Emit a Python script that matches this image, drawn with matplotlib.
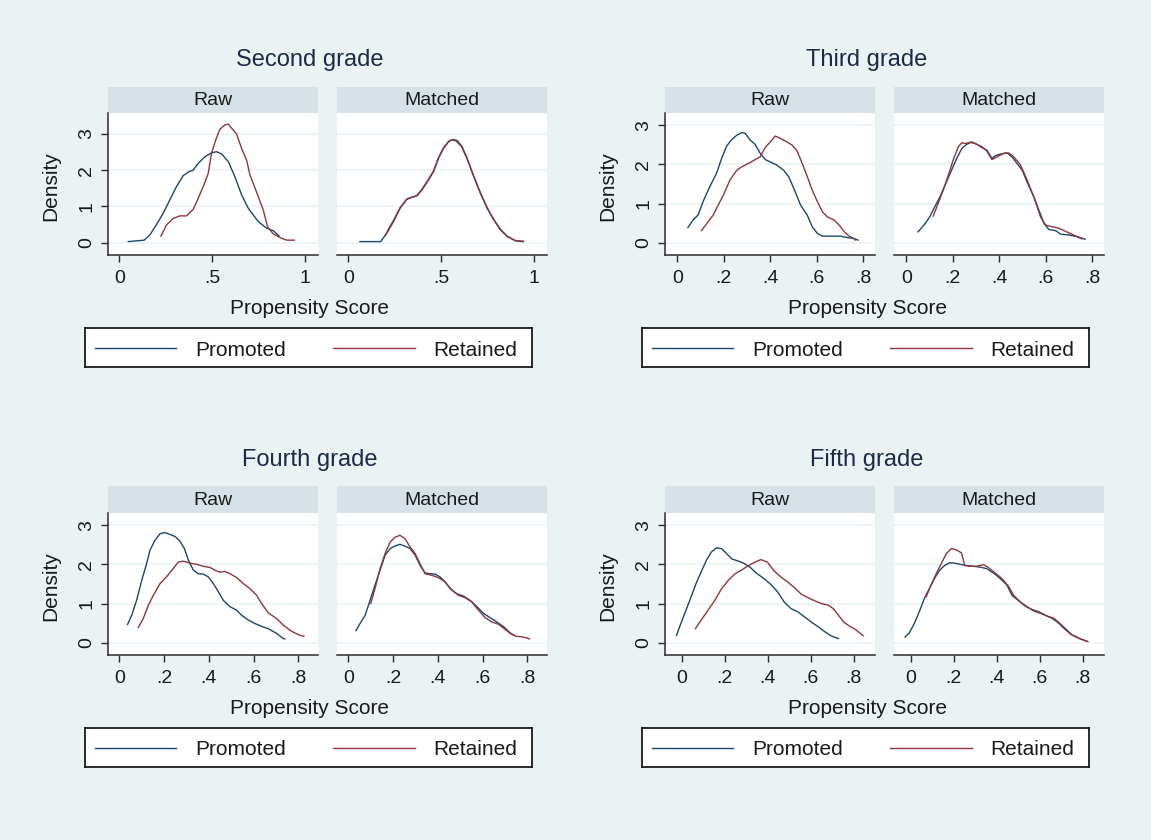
import matplotlib
matplotlib.use("Agg")
import matplotlib.pyplot as plt
from matplotlib.lines import Line2D

W, H = 1151, 840

BG = "#EAF2F3"
STRIP = "#D6E2E7"
GRID = "#EAF2F3"
NAVY = "#1A476F"
MAROON = "#90353B"
INK = "#1A1A1A"
TITLE_INK = "#1C2A48"

plt.rcParams["font.family"] = ["Liberation Sans", "DejaVu Sans"]

# ---- density curves (x = propensity score, y = density) ----
# Second grade
second_raw_pro_x = [0.049, 0.135, 0.165, 0.2, 0.237, 0.273, 0.309, 0.345, 0.376, 0.399, 0.426, 0.462,
                    0.498, 0.525, 0.552, 0.588, 0.624, 0.66, 0.696, 0.75, 0.795, 0.831, 0.863]
second_raw_pro_y = [0.03, 0.07, 0.21, 0.49, 0.81, 1.18, 1.55, 1.85, 1.96, 2.0, 2.19, 2.37,
                    2.48, 2.51, 2.45, 2.24, 1.82, 1.32, 0.95, 0.58, 0.40, 0.33, 0.18]
second_raw_ret_x = [0.225, 0.255, 0.291, 0.327, 0.363, 0.399, 0.426, 0.453, 0.48, 0.498, 0.52, 0.543,
                    0.57, 0.588, 0.606, 0.633, 0.66, 0.687, 0.705, 0.75, 0.777, 0.8, 0.831, 0.876,
                    0.903, 0.944]
second_raw_ret_y = [0.18, 0.49, 0.67, 0.74, 0.74, 0.92, 1.22, 1.55, 1.91, 2.47, 2.83, 3.13,
                    3.25, 3.27, 3.16, 3.0, 2.6, 2.28, 1.87, 1.27, 0.9, 0.44, 0.24, 0.12,
                    0.07, 0.07]
second_mat_pro_x = [0.063, 0.175, 0.208, 0.244, 0.28, 0.316, 0.343, 0.37, 0.397, 0.433, 0.46, 0.487,
                    0.514, 0.542, 0.565, 0.587, 0.614, 0.641, 0.677, 0.713, 0.749, 0.785, 0.821,
                    0.857, 0.903, 0.945]
second_mat_pro_y = [0.03, 0.03, 0.26, 0.58, 0.95, 1.2, 1.25, 1.29, 1.45, 1.73, 1.96, 2.33,
                    2.6, 2.79, 2.85, 2.82, 2.65, 2.33, 1.82, 1.36, 0.95, 0.63, 0.35,
                    0.17, 0.05, 0.03]
second_mat_ret_x = [0.2, 0.22, 0.245, 0.28, 0.316, 0.345, 0.37, 0.397, 0.433, 0.46, 0.487, 0.514,
                    0.542, 0.56, 0.58, 0.61, 0.64, 0.677, 0.713, 0.749, 0.785, 0.821, 0.857,
                    0.9, 0.945]
second_mat_ret_y = [0.2, 0.4, 0.62, 0.97, 1.2, 1.26, 1.3, 1.47, 1.75, 1.98, 2.35, 2.62,
                    2.8, 2.84, 2.81, 2.66, 2.33, 1.84, 1.38, 0.97, 0.64, 0.37, 0.18,
                    0.06, 0.04]

# Third grade
third_raw_pro_x = [0.046, 0.068, 0.09, 0.111, 0.14, 0.169, 0.191, 0.212, 0.234, 0.256, 0.278, 0.292,
                   0.314, 0.335, 0.357, 0.379, 0.4, 0.429, 0.458, 0.48, 0.502, 0.531, 0.559,
                   0.581, 0.603, 0.625, 0.661, 0.704, 0.726, 0.759, 0.778]
third_raw_pro_y = [0.39, 0.58, 0.71, 1.05, 1.43, 1.77, 2.15, 2.46, 2.63, 2.74, 2.81, 2.79,
                   2.62, 2.51, 2.28, 2.12, 2.06, 1.98, 1.85, 1.68, 1.38, 0.96, 0.71,
                   0.41, 0.24, 0.17, 0.17, 0.17, 0.14, 0.11, 0.07]
third_raw_ret_x = [0.104, 0.133, 0.155, 0.176, 0.198, 0.227, 0.256, 0.278, 0.306, 0.335, 0.357, 0.379,
                   0.4, 0.422, 0.444, 0.473, 0.494, 0.516, 0.538, 0.56, 0.581, 0.603, 0.625,
                   0.646, 0.675, 0.697, 0.719, 0.74, 0.759, 0.766]
third_raw_ret_y = [0.31, 0.54, 0.71, 0.96, 1.21, 1.6, 1.85, 1.94, 2.02, 2.12, 2.19, 2.43,
                   2.57, 2.72, 2.66, 2.57, 2.49, 2.34, 2.02, 1.68, 1.34, 1.05, 0.79,
                   0.66, 0.58, 0.45, 0.28, 0.17, 0.11, 0.07]
third_mat_pro_x = [0.051, 0.08, 0.101, 0.123, 0.145, 0.173, 0.195, 0.217, 0.239, 0.26, 0.282, 0.304,
                   0.325, 0.347, 0.369, 0.383, 0.405, 0.434, 0.455, 0.477, 0.499, 0.52, 0.549,
                   0.571, 0.593, 0.614, 0.643, 0.665, 0.7, 0.74, 0.77]
third_mat_pro_y = [0.28, 0.48, 0.66, 0.92, 1.17, 1.55, 1.85, 2.15, 2.4, 2.51, 2.57, 2.51,
                   2.43, 2.36, 2.15, 2.22, 2.26, 2.29, 2.19, 2.02, 1.85, 1.55, 1.17,
                   0.83, 0.49, 0.34, 0.31, 0.22, 0.2, 0.15, 0.09]
third_mat_ret_x = [0.116, 0.137, 0.159, 0.181, 0.202, 0.224, 0.239, 0.253, 0.275, 0.296, 0.325, 0.347,
                   0.369, 0.39, 0.419, 0.441, 0.463, 0.492, 0.52, 0.549, 0.578, 0.6, 0.629,
                   0.658, 0.679, 0.72, 0.755]
third_mat_ret_y = [0.68, 1.0, 1.34, 1.72, 2.11, 2.45, 2.55, 2.53, 2.56, 2.53, 2.45, 2.34,
                   2.12, 2.19, 2.28, 2.29, 2.19, 1.98, 1.6, 1.17, 0.66, 0.45, 0.41,
                   0.37, 0.31, 0.2, 0.1]

# Fourth grade
fourth_raw_pro_x = [0.037, 0.055, 0.077, 0.1, 0.122, 0.137, 0.159, 0.182, 0.204, 0.227, 0.249, 0.271,
                    0.291, 0.309, 0.331, 0.353, 0.375, 0.398, 0.42, 0.443, 0.465, 0.495, 0.525,
                    0.547, 0.577, 0.607, 0.636, 0.666, 0.703, 0.733, 0.74]
fourth_raw_pro_y = [0.47, 0.7, 1.08, 1.59, 2.02, 2.36, 2.61, 2.78, 2.81, 2.76, 2.71, 2.59,
                    2.4, 2.1, 1.85, 1.76, 1.75, 1.68, 1.51, 1.3, 1.08, 0.92, 0.83,
                    0.7, 0.58, 0.49, 0.42, 0.36, 0.24, 0.11, 0.1]
fourth_raw_ret_x = [0.085, 0.107, 0.13, 0.152, 0.182, 0.212, 0.241, 0.264, 0.286, 0.316, 0.346, 0.376,
                    0.405, 0.435, 0.45, 0.472, 0.495, 0.525, 0.554, 0.584, 0.614, 0.636, 0.666,
                    0.703, 0.733, 0.763, 0.785, 0.808, 0.825]
fourth_raw_ret_y = [0.39, 0.62, 0.96, 1.21, 1.51, 1.69, 1.89, 2.06, 2.08, 2.03, 2.0, 1.95,
                    1.92, 1.83, 1.8, 1.82, 1.76, 1.66, 1.51, 1.38, 1.21, 1.0, 0.76,
                    0.62, 0.45, 0.32, 0.25, 0.19, 0.17]
fourth_mat_pro_x = [0.034, 0.052, 0.075, 0.097, 0.119, 0.142, 0.164, 0.187, 0.209, 0.231, 0.254, 0.276,
                    0.299, 0.321, 0.343, 0.366, 0.388, 0.41, 0.433, 0.455, 0.485, 0.515, 0.545,
                    0.575, 0.604, 0.634, 0.664, 0.694, 0.724, 0.742]
fourth_mat_pro_y = [0.31, 0.49, 0.7, 1.08, 1.47, 1.85, 2.23, 2.4, 2.47, 2.51, 2.46, 2.4,
                    2.23, 1.97, 1.78, 1.76, 1.75, 1.68, 1.55, 1.38, 1.25, 1.19, 1.08,
                    0.92, 0.75, 0.64, 0.53, 0.41, 0.25, 0.19]
fourth_mat_ret_x = [0.1, 0.119, 0.142, 0.164, 0.187, 0.209, 0.231, 0.254, 0.276, 0.299, 0.321, 0.343,
                    0.373, 0.403, 0.433, 0.463, 0.493, 0.522, 0.552, 0.582, 0.612, 0.642, 0.672,
                    0.701, 0.724, 0.746, 0.78, 0.81]
fourth_mat_ret_y = [1.0, 1.38, 1.89, 2.27, 2.57, 2.69, 2.74, 2.65, 2.44, 2.27, 2.01, 1.76,
                    1.72, 1.66, 1.55, 1.34, 1.21, 1.15, 1.04, 0.83, 0.64, 0.53, 0.47,
                    0.34, 0.24, 0.17, 0.15, 0.1]

# Fifth grade
fifth_raw_pro_x = [-0.025, -0.005, 0.019, 0.043, 0.066, 0.09, 0.114, 0.137, 0.161, 0.185, 0.209, 0.232,
                   0.264, 0.288, 0.319, 0.351, 0.382, 0.414, 0.446, 0.477, 0.509, 0.54, 0.572,
                   0.603, 0.635, 0.667, 0.698, 0.73]
fifth_raw_pro_y = [0.19, 0.49, 0.83, 1.17, 1.51, 1.81, 2.1, 2.31, 2.42, 2.4, 2.27, 2.14,
                   2.08, 2.03, 1.92, 1.76, 1.64, 1.49, 1.3, 1.04, 0.87, 0.79, 0.66,
                   0.53, 0.41, 0.28, 0.17, 0.11]
fifth_raw_ret_x = [0.063, 0.09, 0.122, 0.153, 0.185, 0.216, 0.248, 0.28, 0.311, 0.343, 0.367, 0.398,
                   0.43, 0.461, 0.493, 0.524, 0.556, 0.588, 0.619, 0.651, 0.682, 0.706, 0.73,
                   0.754, 0.785, 0.809, 0.845]
fifth_raw_ret_y = [0.36, 0.58, 0.83, 1.08, 1.38, 1.59, 1.76, 1.86, 1.97, 2.06, 2.12, 2.06,
                   1.83, 1.68, 1.55, 1.41, 1.24, 1.15, 1.07, 1.0, 0.96, 0.87, 0.7,
                   0.53, 0.41, 0.34, 0.18]
fifth_mat_pro_x = [-0.027, -0.008, 0.016, 0.039, 0.063, 0.086, 0.11, 0.134, 0.157, 0.181, 0.204, 0.228,
                   0.259, 0.291, 0.322, 0.353, 0.385, 0.416, 0.448, 0.471, 0.503, 0.534, 0.565,
                   0.597, 0.628, 0.66, 0.691, 0.715, 0.75, 0.79, 0.82]
fifth_mat_pro_y = [0.15, 0.25, 0.49, 0.79, 1.13, 1.38, 1.64, 1.85, 1.97, 2.04, 2.03, 2.0,
                   1.97, 1.95, 1.93, 1.89, 1.78, 1.64, 1.47, 1.21, 1.07, 0.93, 0.85,
                   0.79, 0.7, 0.62, 0.49, 0.36, 0.2, 0.1, 0.04]
fifth_mat_ret_x = [0.071, 0.094, 0.118, 0.141, 0.165, 0.188, 0.212, 0.236, 0.251, 0.275, 0.306, 0.338,
                   0.361, 0.393, 0.424, 0.455, 0.479, 0.51, 0.542, 0.573, 0.605, 0.636, 0.668,
                   0.699, 0.715, 0.75, 0.79, 0.825]
fifth_mat_ret_y = [1.17, 1.47, 1.76, 2.01, 2.27, 2.4, 2.37, 2.29, 1.97, 1.95, 1.95, 1.99,
                   1.92, 1.78, 1.64, 1.44, 1.21, 1.04, 0.92, 0.81, 0.75, 0.68, 0.62,
                   0.47, 0.39, 0.21, 0.1, 0.03]

grade_titles = ["Second grade", "Third grade", "Fourth grade", "Fifth grade"]
panel_labels = ["Raw", "Matched"]
series_labels = ["Promoted", "Retained"]
y_ticks = [0, 1, 2, 3]
x_ticks_second = [0, 0.5, 1]
x_labels_second = ["0", ".5", "1"]
x_ticks_other = [0, 0.2, 0.4, 0.6, 0.8]
x_labels_other = ["0", ".2", ".4", ".6", ".8"]

grades = [
    dict(title=grade_titles[0], ox=0, oy=0, xlim=(-0.062, 1.072), ylim=(-0.34, 3.57),
         xticks=x_ticks_second, xlabels=x_labels_second,
         raw=((second_raw_pro_x, second_raw_pro_y), (second_raw_ret_x, second_raw_ret_y)),
         mat=((second_mat_pro_x, second_mat_pro_y), (second_mat_ret_x, second_mat_ret_y))),
    dict(title=grade_titles[1], ox=557, oy=0, xlim=(-0.054, 0.851), ylim=(-0.31, 3.30),
         xticks=x_ticks_other, xlabels=x_labels_other,
         raw=((third_raw_pro_x, third_raw_pro_y), (third_raw_ret_x, third_raw_ret_y)),
         mat=((third_mat_pro_x, third_mat_pro_y), (third_mat_ret_x, third_mat_ret_y))),
    dict(title=grade_titles[2], ox=0, oy=400, xlim=(-0.052, 0.888), ylim=(-0.31, 3.30),
         xticks=x_ticks_other, xlabels=x_labels_other,
         raw=((fourth_raw_pro_x, fourth_raw_pro_y), (fourth_raw_ret_x, fourth_raw_ret_y)),
         mat=((fourth_mat_pro_x, fourth_mat_pro_y), (fourth_mat_ret_x, fourth_mat_ret_y))),
    dict(title=grade_titles[3], ox=557, oy=400, xlim=(-0.08, 0.90), ylim=(-0.31, 3.30),
         xticks=x_ticks_other, xlabels=x_labels_other,
         raw=((fifth_raw_pro_x, fifth_raw_pro_y), (fifth_raw_ret_x, fifth_raw_ret_y)),
         mat=((fifth_mat_pro_x, fifth_mat_pro_y), (fifth_mat_ret_x, fifth_mat_ret_y))),
]


def px_axes(fig, left, top, right, bottom):
    return fig.add_axes([left / W, 1 - bottom / H, (right - left) / W, (bottom - top) / H])


def px_text(fig, x, y, s, **kw):
    fig.text(x / W, 1 - y / H, s, ha="center", va="center", **kw)


def draw_panel(fig, left, right, top, g, curves, label, show_y):
    strip = px_axes(fig, left, top, right, top + 26.8)
    strip.set_facecolor(STRIP)
    strip.set_xticks([])
    strip.set_yticks([])
    for s in strip.spines.values():
        s.set_visible(False)
    strip.text(0.5, 0.47, label, transform=strip.transAxes, ha="center", va="center",
               fontsize=14, color=INK)

    ax = px_axes(fig, left, top + 26.8, right, top + 168.5)
    ax.set_facecolor("white")
    for yv in y_ticks:
        ax.axhline(yv, color=GRID, lw=1.1, zorder=0)
    for (xs, ys), col in zip(curves, [NAVY, MAROON]):
        ax.plot(xs, ys, color=col, lw=1.0, zorder=2)
    ax.set_xlim(*g["xlim"])
    ax.set_ylim(*g["ylim"])
    ax.set_xticks(g["xticks"])
    ax.set_xticklabels(g["xlabels"])
    ax.spines["top"].set_visible(False)
    ax.spines["right"].set_visible(False)
    ax.spines["bottom"].set_color("#2B2B2B")
    ax.spines["bottom"].set_linewidth(1.1)
    ax.tick_params(axis="x", direction="out", length=5, width=1.0, color="#2B2B2B",
                   labelsize=14, labelcolor=INK, pad=6)
    if show_y:
        ax.spines["left"].set_color("#2B2B2B")
        ax.spines["left"].set_linewidth(1.1)
        ax.set_yticks(y_ticks)
        ax.set_yticklabels([str(v) for v in y_ticks], rotation=90, va="center")
        ax.tick_params(axis="y", direction="out", length=5, width=1.0, color="#2B2B2B",
                       labelsize=14, labelcolor=INK, pad=4)
    else:
        ax.spines["left"].set_visible(False)
        ax.set_yticks([])


fig = plt.figure(figsize=(W / 100, H / 100), dpi=100, facecolor=BG)

for g in grades:
    ox, oy = g["ox"], g["oy"]
    top = 86.5 + oy
    draw_panel(fig, 107.7 + ox, 318 + ox, top, g, g["raw"], panel_labels[0], True)
    draw_panel(fig, 336.7 + ox, 547 + ox, top, g, g["mat"], panel_labels[1], False)

    px_text(fig, 310 + ox, 60 + oy, g["title"], fontsize=17, color=TITLE_INK)
    px_text(fig, 310 + ox, 308 + oy, "Propensity Score", fontsize=15, color=INK)
    px_text(fig, 51 + ox, 186 + oy, "Density", fontsize=15, color=INK, rotation=90)

    # legend box
    leg = px_axes(fig, 85 + ox, 328 + oy, 532 + ox, 367 + oy)
    leg.set_xlim(85 + ox, 532 + ox)
    leg.set_ylim(367 + oy, 328 + oy)
    leg.set_facecolor("white")
    leg.set_xticks([])
    leg.set_yticks([])
    for s in leg.spines.values():
        s.set_color("#1A1A1A")
        s.set_linewidth(1.3)
    ym = 348 + oy
    leg.add_line(Line2D([95 + ox, 176 + ox], [ym, ym], color=NAVY, lw=1.0))
    leg.add_line(Line2D([333 + ox, 415 + ox], [ym, ym], color=MAROON, lw=1.0))
    leg.text(195 + ox, ym + 2, series_labels[0], ha="left", va="center", fontsize=15, color=INK)
    leg.text(433 + ox, ym + 2, series_labels[1], ha="left", va="center", fontsize=15, color=INK)

fig.savefig("out.png", dpi=100, facecolor=BG)
